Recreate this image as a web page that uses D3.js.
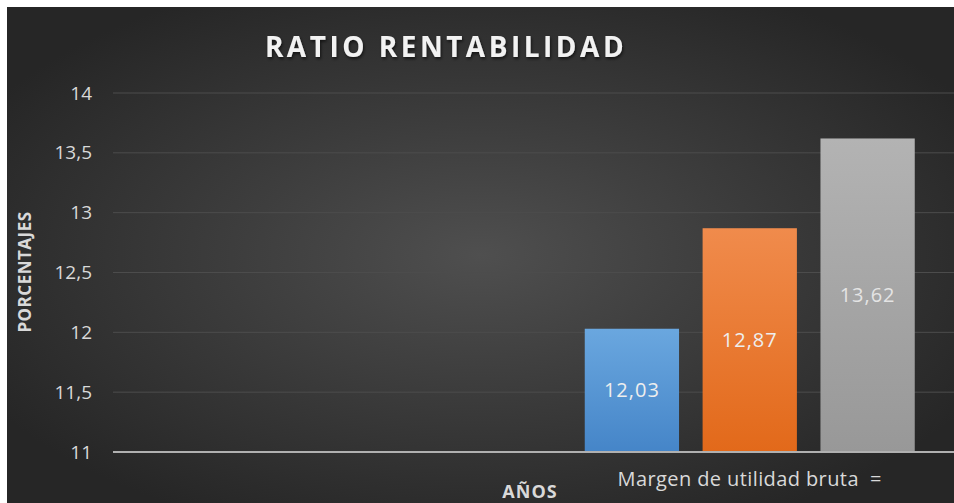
<!DOCTYPE html>
<html>
<head>
<meta charset="utf-8">
<script src="https://cdn.jsdelivr.net/npm/d3@7"></script>
<style>
  html, body { margin: 0; padding: 0; background: #ffffff; }
  svg { display: block; }
</style>
</head>
<body>
<svg id="chart" width="954" height="503"></svg>
<script>
// data
var categories = ["", "Margen de utilidad bruta  ="];
var series = ["Serie 1", "Serie 2", "Serie 3"];
var values = [12.03, 12.87, 13.62];
var yTicks = [11, 11.5, 12, 12.5, 13, 13.5, 14];

var width = 954, height = 503;
var margin = {top: 93, left: 113, bottom: 51};
var plotRight = 962; // plot runs past the crop on the right

var svg = d3.select("#chart");
var defs = svg.append("defs");

// background
var bg = defs.append("radialGradient").attr("id", "bg")
  .attr("cx", "0.5").attr("cy", "0.5").attr("r", "0.6");
bg.append("stop").attr("offset", "0%").attr("stop-color", "#4f4f4f");
bg.append("stop").attr("offset", "100%").attr("stop-color", "#262626");

svg.append("rect")
  .attr("x", 7).attr("y", 7)
  .attr("width", width - 7).attr("height", height - 7)
  .attr("fill", "url(#bg)");

// bar gradients
var fills = [["#6aa7df", "#4585c8"], ["#f08b4c", "#e2691a"], ["#b3b3b3", "#989898"]];
fills.forEach(function(f, i) {
  var g = defs.append("linearGradient").attr("id", "bar" + i)
    .attr("x1", 0).attr("y1", 0).attr("x2", 0).attr("y2", 1);
  g.append("stop").attr("offset", "0%").attr("stop-color", f[0]);
  g.append("stop").attr("offset", "100%").attr("stop-color", f[1]);
});

var shadow = defs.append("filter").attr("id", "shadow")
  .attr("x", "-10%").attr("y", "-30%").attr("width", "120%").attr("height", "160%");
shadow.append("feDropShadow").attr("dx", 1).attr("dy", 2)
  .attr("stdDeviation", 1.5).attr("flood-color", "#000").attr("flood-opacity", 0.6);

var y = d3.scaleLinear().domain([11, 14]).range([height - margin.bottom, margin.top]);
var x0 = d3.scaleBand().domain(categories).range([margin.left, plotRight]);

// gridlines
svg.append("g")
  .selectAll("line")
  .data(yTicks.slice(1))
  .join("line")
  .attr("x1", margin.left).attr("x2", plotRight)
  .attr("y1", function(d) { return y(d); })
  .attr("y2", function(d) { return y(d); })
  .attr("stroke", "#4c4c4c").attr("stroke-width", 1);

// y axis labels
var yAxis = svg.append("g")
  .attr("transform", "translate(" + 92 + ",0)")
  .call(d3.axisLeft(y).tickValues(yTicks).tickSize(0).tickPadding(0)
    .tickFormat(function(d) { return String(d).replace(".", ","); }));
yAxis.select(".domain").remove();
yAxis.selectAll("text")
  .attr("fill", "#d9d9d9")
  .style("font-family", "'Open Sans', sans-serif")
  .style("font-size", "19px");

// bars
var groupW = 330;
var cx = x0(categories[1]) + x0.bandwidth() / 2;
var x1 = d3.scaleBand().domain(series).range([cx - groupW / 2, cx + groupW / 2]).paddingInner(0.2);

var bars = svg.append("g");
bars.selectAll("rect")
  .data(values)
  .join("rect")
  .attr("x", function(d, i) { return x1(series[i]); })
  .attr("y", function(d) { return y(d); })
  .attr("width", x1.bandwidth())
  .attr("height", function(d) { return y(11) - y(d); })
  .attr("fill", function(d, i) { return "url(#bar" + i + ")"; });

bars.selectAll("text")
  .data(values)
  .join("text")
  .attr("x", function(d, i) { return x1(series[i]) + x1.bandwidth() / 2; })
  .attr("y", function(d) { return (y(d) + y(11)) / 2; })
  .attr("dy", "0.35em")
  .attr("text-anchor", "middle")
  .attr("fill", function(d, i) { return i === 2 ? "#e4e4e4" : "#eeeeee"; })
  .style("font-family", "'Open Sans', sans-serif")
  .style("font-size", "20px")
  .style("letter-spacing", "1px")
  .text(function(d) { return d.toFixed(2).replace(".", ","); });

// x axis line
svg.append("line")
  .attr("x1", margin.left).attr("x2", plotRight)
  .attr("y1", y(11)).attr("y2", y(11))
  .attr("stroke", "#b0b0b0").attr("stroke-width", 2);

// category labels
svg.append("g").selectAll("text")
  .data(categories)
  .join("text")
  .attr("x", function(d) { return x0(d) + x0.bandwidth() / 2; })
  .attr("y", 486)
  .attr("text-anchor", "middle")
  .attr("fill", "#d9d9d9")
  .style("font-family", "'Open Sans', sans-serif")
  .style("font-size", "20px")
  .style("letter-spacing", "0.4px")
  .style("white-space", "pre")
  .text(function(d) { return d; });

// titles
svg.append("text")
  .attr("x", 446).attr("y", 57)
  .attr("text-anchor", "middle")
  .attr("fill", "#f2f2f2")
  .attr("filter", "url(#shadow)")
  .style("font-family", "'Open Sans', sans-serif")
  .style("font-weight", "bold")
  .style("font-size", "28px")
  .style("letter-spacing", "3.5px")
  .text("RATIO RENTABILIDAD");

svg.append("text")
  .attr("x", 530).attr("y", 498)
  .attr("text-anchor", "middle")
  .attr("fill", "#d9d9d9")
  .style("font-family", "'Open Sans', sans-serif")
  .style("font-weight", "bold")
  .style("font-size", "18px")
  .style("letter-spacing", "1px")
  .text("AÑOS");

svg.append("text")
  .attr("transform", "translate(31,272) rotate(-90)")
  .attr("text-anchor", "middle")
  .attr("fill", "#d9d9d9")
  .style("font-family", "'Open Sans', sans-serif")
  .style("font-weight", "bold")
  .style("font-size", "17px")
  .style("letter-spacing", "0.5px")
  .text("PORCENTAJES");
</script>
</body>
</html>
